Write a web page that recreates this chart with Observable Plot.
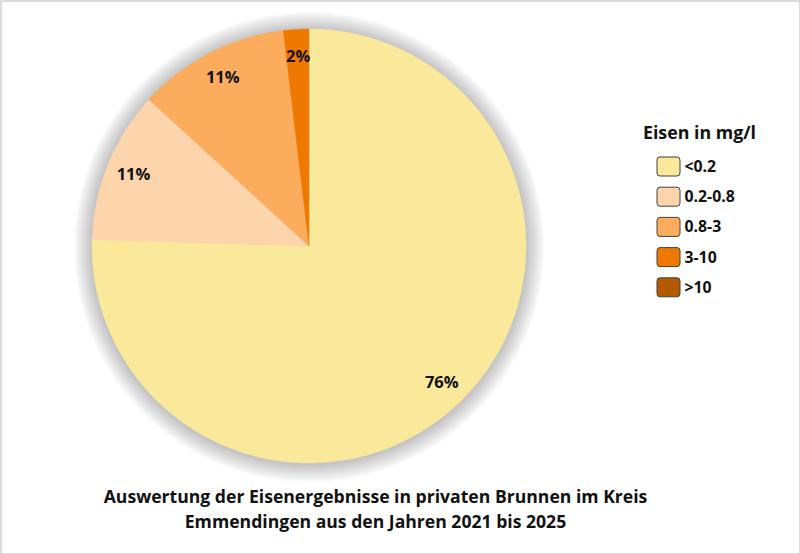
<!DOCTYPE html>
<html>
<head>
<meta charset="utf-8">
<script src="https://cdn.jsdelivr.net/npm/d3@7"></script>
<script src="https://cdn.jsdelivr.net/npm/@observablehq/plot@0.6"></script>
<style>
  html, body { margin: 0; padding: 0; background: #fff; }
  svg { display: block; }
</style>
</head>
<body>
<div id="chart"></div>
<script>
// Data
const categories = ["<0.2", "0.2-0.8", "0.8-3", "3-10", ">10"];
const counts = [40, 6, 6, 1, 0];
const percentLabels = ["76%", "11%", "11%", "2%", ""];
const colors = ["#FAE99B", "#FDD5AC", "#FBAC5C", "#EF7800", "#B35A00"];
const legendTitle = "Eisen in mg/l";
const titleLines = [
  "Auswertung der Eisenergebnisse in privaten Brunnen im Kreis",
  "Emmendingen aus den Jahren 2021 bis 2025"
];

const W = 800, H = 554;
const cx = 309, cy = 246, R = 217;
const font = "'Open Sans', Lato, sans-serif";

const slices = categories.map((c, i) => ({category: c, value: counts[i], label: percentLabels[i]}));
const pie = d3.pie().sort(null).value(d => d.value)(slices);

const labelData = pie.filter(p => p.data.value > 0).map(p => {
  const mid = (p.startAngle + p.endAngle) / 2;
  return {x: cx + Math.sin(mid) * R * 0.875, y: cy - Math.cos(mid) * R * 0.875, text: p.data.label};
});

const legendData = categories.map((c, i) => ({category: c, i}));

function pieMark(index, scales) {
  const x = scales.x, y = scales.y, color = scales.color;
  const px = x(cx), py = y(cy), pr = x(cx + R) - x(cx);
  const g = d3.create("svg:g");
  // soft halo: solid concentric discs from white to gray
  const N = 18;
  const shade = d3.interpolateRgb("#ffffff", "#c4c4c4");
  for (let k = N; k >= 1; k--) {
    const t = 1 - (k - 1) / N;
    g.append("circle")
      .attr("cx", px).attr("cy", py + 1)
      .attr("r", pr + k)
      .attr("fill", shade(Math.pow(t, 0.9)));
  }
  const arc = d3.arc().innerRadius(0).outerRadius(pr);
  g.append("g").attr("transform", `translate(${px},${py})`)
    .selectAll("path").data(pie.filter(p => p.data.value > 0)).join("path")
    .attr("d", arc)
    .attr("fill", d => color(d.data.category))
    .attr("stroke", d => color(d.data.category))
    .attr("stroke-width", 0.5);
  return g.node();
}

const chart = Plot.plot({
  width: W,
  height: H,
  margin: 0,
  x: {domain: [0, W], range: [0, W], axis: null},
  y: {domain: [0, H], range: [0, H], axis: null},
  color: {domain: categories, range: colors},
  style: {fontFamily: font, background: "#fff"},
  marks: [
    pieMark,
    Plot.text(labelData, {
      x: "x", y: "y", text: "text",
      fontSize: 16.5, fontWeight: "bold", fill: "#111"
    }),
    Plot.text([legendTitle], {
      x: 699, y: 133, text: d => d,
      fontSize: 17.8, fontWeight: "bold", fill: "#111"
    }),
    Plot.rect(legendData, {
      x1: 657, x2: 680,
      y1: d => 157 + d.i * 30.2, y2: d => 176 + d.i * 30.2,
      fill: "category", stroke: "#404040", strokeWidth: 1, rx: 3
    }),
    Plot.text(legendData, {
      x: 684, y: d => 166.5 + d.i * 30.2, text: "category",
      textAnchor: "start", fontSize: 15.8, fontWeight: "bold", fill: "#111"
    }),
    Plot.text(titleLines, {
      x: 375, y: (d, i) => 497 + i * 25, text: d => d,
      fontSize: 17.6, fontWeight: "bold", fill: "#111"
    }),
    Plot.frame({stroke: "#b8b8b8", strokeWidth: 1, inset: 0.5})
  ]
});

document.getElementById("chart").appendChild(chart);
</script>
</body>
</html>
